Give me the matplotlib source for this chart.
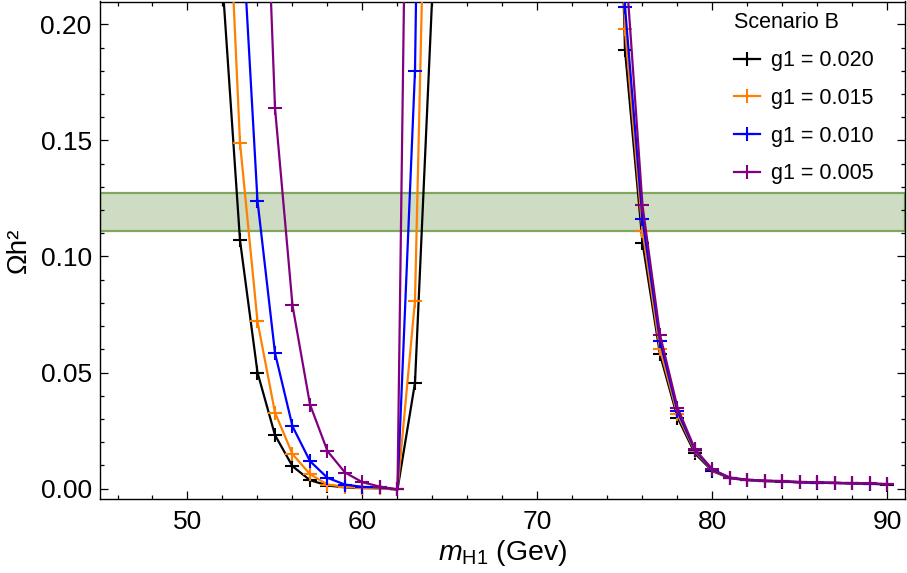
import numpy as np
import matplotlib
matplotlib.use("Agg")
import matplotlib.pyplot as plt
from matplotlib.ticker import MultipleLocator

plt.rcParams['font.family'] = ['Liberation Sans', 'DejaVu Sans']
plt.rcParams['mathtext.fontset'] = 'custom'
plt.rcParams['mathtext.rm'] = 'Liberation Sans'
plt.rcParams['mathtext.it'] = 'Liberation Sans:italic'

nan = np.nan
# ---- data ----
mass_left = [52, 53, 54, 55, 56, 57, 58, 59, 60, 61, 62, 63, 64]
mass_right = [74, 75, 76, 77, 78, 79, 80, 81, 82, 83, 84, 85, 86, 87, 88, 89, 90]

labels = ["g1 = 0.020", "g1 = 0.015", "g1 = 0.010", "g1 = 0.005"]
colors = ["#000000", "#ff8000", "#0000ff", "#800080"]

left_g020 = [0.218, 0.107, 0.050, 0.023, 0.0096, 0.0036, 0.0013, 0.0005, 0.0002, 0.0001, -0.0004, 0.0456, 0.215]
left_g015 = [0.315, 0.149, 0.072, 0.0327, 0.0148, 0.0062, 0.0017, 0.0008, 0.0003, 0.0001, -0.0004, 0.081, 0.41]
left_g010 = [nan, 0.258, 0.124, 0.0584, 0.0268, 0.0118, 0.0046, 0.0017, 0.0007, 0.0005, -0.0004, 0.180, 0.70]
left_g005 = [nan, nan, 0.365, 0.164, 0.0789, 0.0362, 0.0161, 0.0069, 0.0027, 0.0008, -0.0004, 0.57, nan]

right_g020 = [0.47, 0.189, 0.106, 0.0578, 0.0306, 0.0151, 0.0075, 0.0044, 0.0036, 0.0032, 0.0030, 0.0026, 0.0025, 0.0024, 0.0022, 0.0021, 0.0017]
right_g015 = [0.50, 0.198, 0.111, 0.0600, 0.0320, 0.0160, 0.0078, 0.0045, 0.0037, 0.0033, 0.0031, 0.0027, 0.0024, 0.0024, 0.0022, 0.0021, 0.0018]
right_g010 = [0.52, 0.2077, 0.116, 0.0636, 0.0333, 0.0165, 0.0080, 0.0046, 0.0037, 0.0033, 0.0031, 0.0027, 0.0025, 0.0024, 0.0022, 0.0021, 0.0018]
right_g005 = [0.58, 0.230, 0.122, 0.0663, 0.0349, 0.0169, 0.0082, 0.0047, 0.0038, 0.0034, 0.0032, 0.0028, 0.0026, 0.0025, 0.0023, 0.0022, 0.0019]

left_series = [left_g020, left_g015, left_g010, left_g005]
right_series = [right_g020, right_g015, right_g010, right_g005]

band_low, band_high = 0.1112, 0.1273

# ---- figure ----
fig = plt.figure(figsize=(9.07, 5.73), dpi=100)
ax = fig.add_axes([100/907, 1 - 498.5/573, 805/907, 497/573])

ax.axhspan(band_low, band_high, facecolor="#cddcc2", edgecolor="#7fa85e", linewidth=1.6, zorder=1)

handles = []
for lv, rv, c, lab in zip(left_series, right_series, colors, labels):
    h, = ax.plot(mass_left, lv, color=c, lw=1.6, marker='+', ms=10, mew=1.5, zorder=3, label=lab)
    ax.plot(mass_right, rv, color=c, lw=1.6, marker='+', ms=10, mew=1.5, zorder=3)
    handles.append(h)

ax.set_xlim(45, 91)
ax.set_ylim(-0.0043, 0.2099)

ax.xaxis.set_major_locator(MultipleLocator(10))
ax.xaxis.set_minor_locator(MultipleLocator(2))
ax.yaxis.set_major_locator(MultipleLocator(0.05))
ax.yaxis.set_minor_locator(MultipleLocator(0.01))
ax.yaxis.set_major_formatter(matplotlib.ticker.FormatStrFormatter('%.2f'))

ax.tick_params(which='both', direction='in', top=True, right=True, labelsize=19, width=0.9)
ax.tick_params(which='major', length=5.5, pad=6)
ax.tick_params(axis='x', which='major', pad=8)
ax.tick_params(which='minor', length=3.2)
for s in ax.spines.values():
    s.set_linewidth(1.0)

ax.set_xlabel(r"$m_{\mathrm{H1}}$ (Gev)", fontsize=20.5, labelpad=3)
ax.set_ylabel("Ωh²", fontsize=20, labelpad=6)

leg = ax.legend(handles=handles, title="Scenario B", loc='upper right',
                bbox_to_anchor=(0.974, 1.0), frameon=False, fontsize=15.5, title_fontsize=15.5,
                handlelength=1.2, handletextpad=0.5, labelspacing=0.78, borderaxespad=0.1,
                alignment='left')

fig.savefig("out.png", dpi=100)
